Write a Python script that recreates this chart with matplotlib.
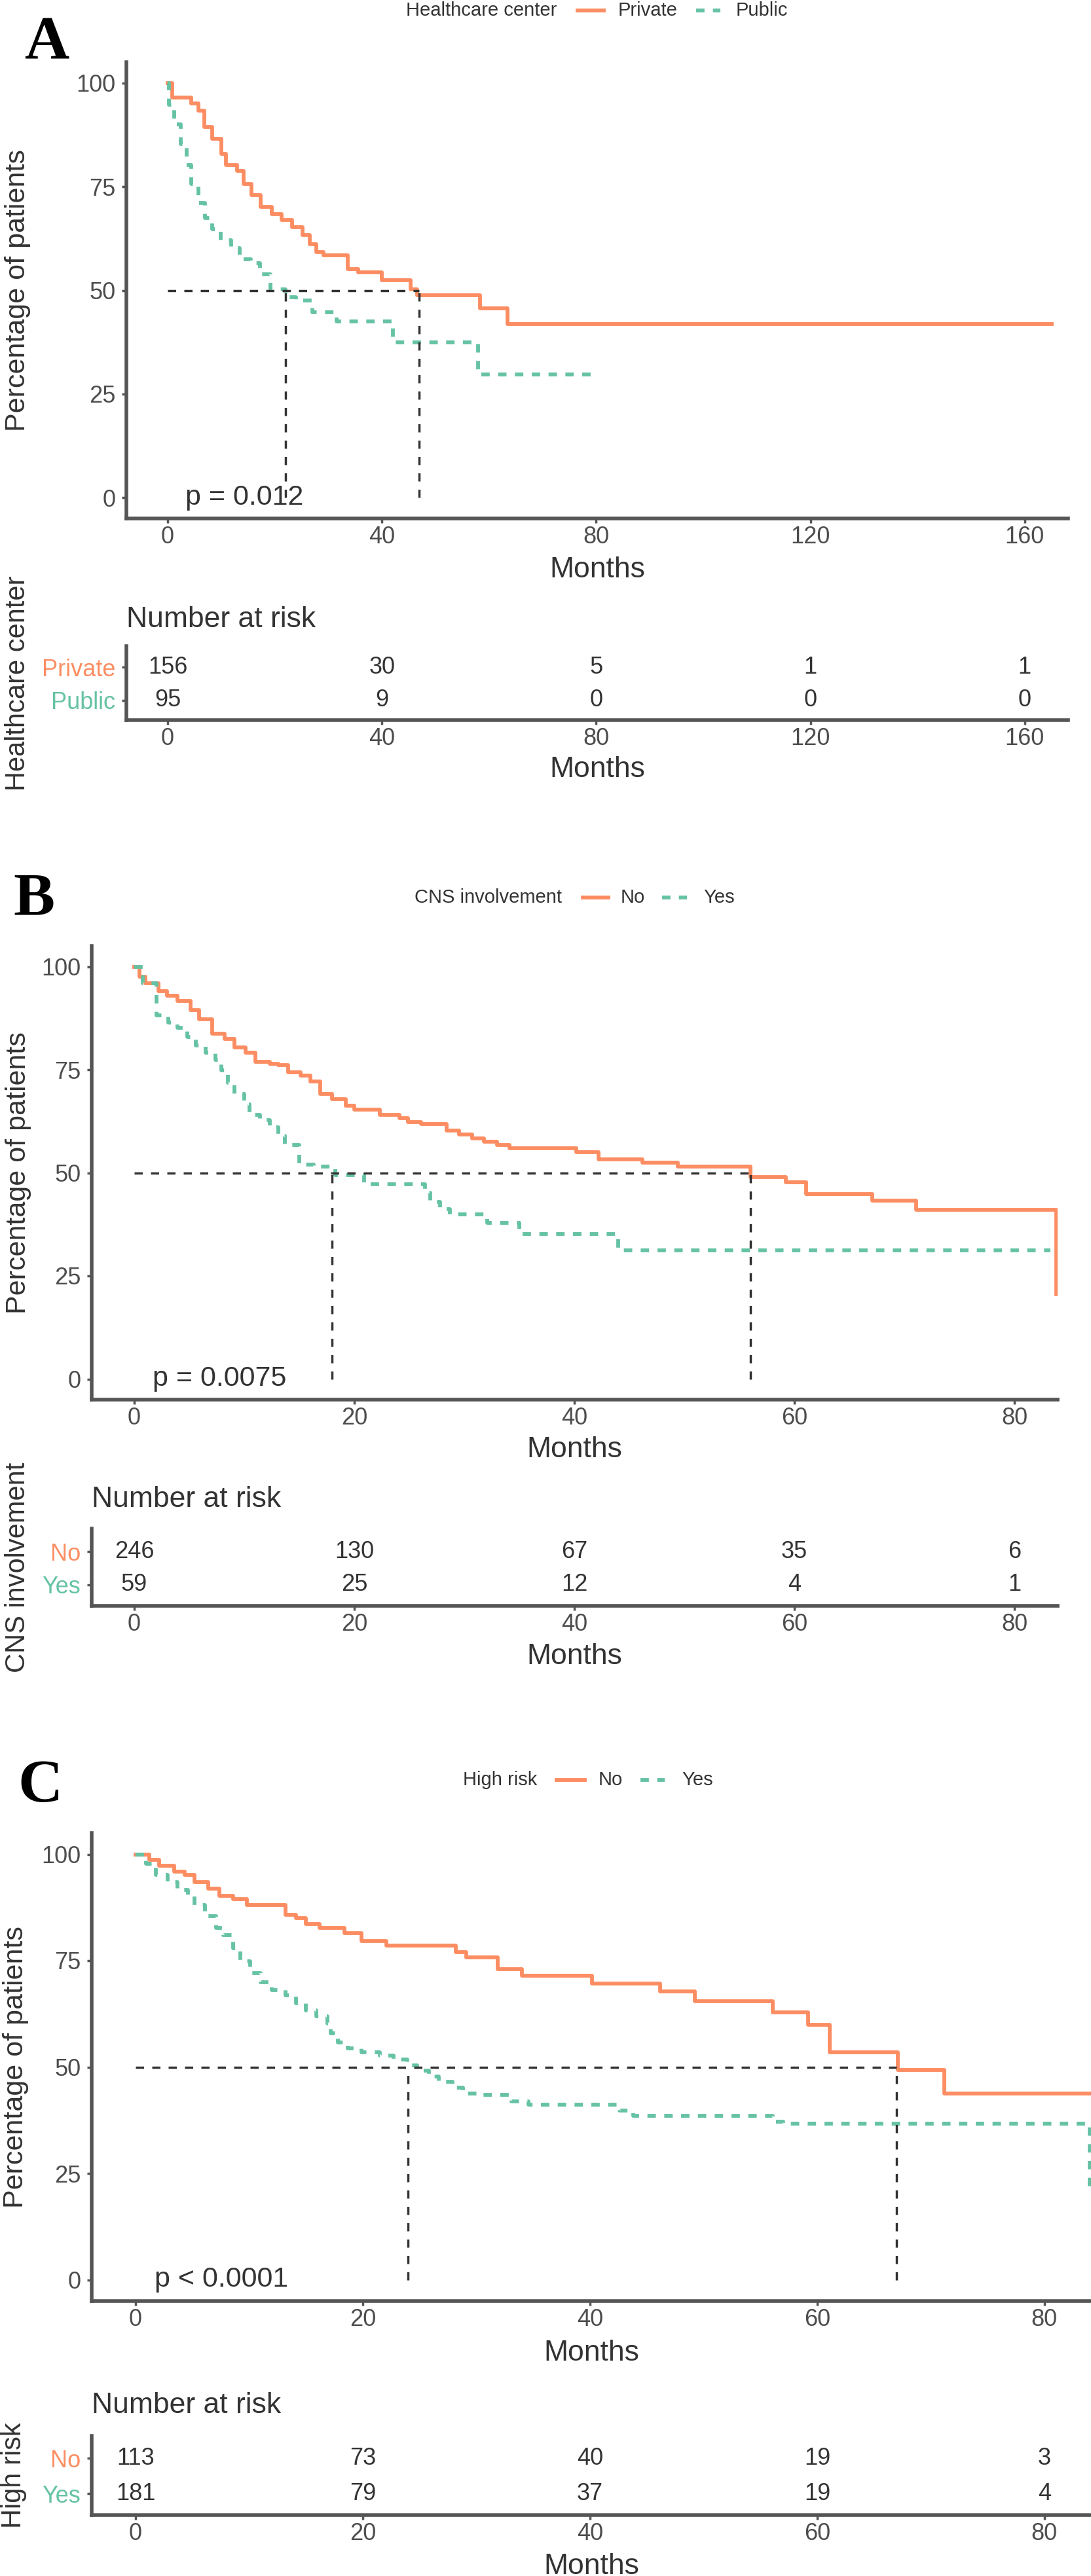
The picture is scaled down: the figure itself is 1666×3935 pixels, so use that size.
import matplotlib
matplotlib.use('Agg')
import matplotlib.pyplot as plt
from matplotlib.lines import Line2D

plt.rcParams['font.family'] = ['Liberation Sans', 'DejaVu Sans']

# ---------------- data ----------------
# Panel A: Healthcare center
a_private_t = [0, 0.9, 4.4, 5.7, 6.8, 8.3, 10, 10.9, 12.9, 14.2, 15.7, 17.4, 19.4, 21.3,
               23.2, 25.2, 26.5, 27.8, 29.1, 33.6, 35.6, 40, 45.3, 46.6, 58.3, 63.5, 165]
a_private_s = [100, 96.4, 95.0, 93.4, 89.3, 86.5, 82.9, 80.2, 78.8, 75.6, 72.9, 70.2, 68.4, 67.0,
               65.2, 63.4, 61.1, 59.3, 58.4, 55.2, 54.3, 52.5, 50.2, 48.8, 45.6, 41.8, 41.8]
a_public_t = [0, 0.3, 1.2, 2.5, 3.5, 4.4, 5.7, 7.0, 8.3, 9.9, 11.8, 13.4, 15.5, 17.3, 19.2,
              22.0, 24.0, 27.0, 31.5, 42.0, 58.0, 79.0]
a_public_s = [100, 94.7, 90.0, 85.2, 80.2, 75.6, 71.1, 67.5, 64.7, 62.0, 60.2, 57.5, 56.6, 53.8, 50.2,
              48.4, 47.5, 44.7, 42.5, 37.5, 29.7, 29.7]
a_medians = [22, 47]
a_pval = "p = 0.012"
a_risk_times = [0, 40, 80, 120, 160]
a_risk_private = [156, 30, 5, 1, 1]
a_risk_public = [95, 9, 0, 0, 0]
a_groups = ["Private", "Public"]
a_title = "Healthcare center"

# Panel B: CNS involvement
b_no_t = [0, 0.5, 1.0, 2.2, 3.0, 3.9, 5.1, 5.9, 7.1, 8.2, 9.1, 10.1, 11.0, 12.3, 13.1, 14.0,
          15.1, 16.0, 16.9, 18.0, 19.2, 20.0, 22.3, 24.1, 24.9, 26.1, 28.4, 29.5, 30.7, 31.8,
          33.0, 34.1, 40.2, 42.2, 46.2, 49.4, 56.0, 59.2, 61.1, 67.1, 71.1, 83.8]
b_no_s = [100, 97.6, 96.0, 94.1, 92.9, 91.6, 89.4, 87.3, 83.8, 82.5, 80.4, 79.1, 76.9, 76.5, 76.1, 74.4,
          73.5, 72.2, 69.2, 67.9, 66.2, 65.3, 64.0, 63.2, 62.3, 61.9, 60.2, 59.3, 58.4, 57.6,
          56.7, 55.9, 55.0, 53.3, 52.4, 51.5, 49.0, 47.7, 44.9, 43.2, 41.0, 20.6]
b_yes_t = [0, 0.8, 2.0, 3.1, 3.9, 4.8, 5.6, 6.5, 7.4, 7.9, 8.5, 9.1, 10.0, 10.5, 11.4, 12.3,
           13.1, 13.7, 15.0, 16.3, 18.3, 20.9, 26.4, 26.9, 27.8, 28.7, 32.1, 35.0, 44.0, 83.3]
b_yes_s = [100, 95.9, 88.1, 86.4, 85.1, 83.0, 80.8, 79.1, 77.4, 74.8, 71.8, 69.2, 66.6, 64.0, 62.7, 61.0,
           58.9, 56.7, 52.0, 51.5, 49.4, 47.2, 45.1, 42.9, 41.2, 39.9, 37.8, 35.2, 31.2, 31.2]
b_medians = [18, 56]
b_pval = "p = 0.0075"
b_risk_times = [0, 20, 40, 60, 80]
b_risk_no = [246, 130, 67, 35, 6]
b_risk_yes = [59, 25, 12, 4, 1]
b_groups = ["No", "Yes"]
b_title = "CNS involvement"

# Panel C: High risk
c_no_t = [0, 1.2, 2.1, 3.4, 4.3, 5.2, 6.4, 7.4, 8.6, 9.8, 13.2, 14.1, 15.0, 16.2, 18.4, 19.9,
          22.1, 28.2, 29.1, 31.9, 34.0, 40.2, 46.2, 49.2, 56.1, 59.2, 61.1, 67.1, 71.2, 85]
c_no_s = [100, 98.7, 97.3, 96.0, 95.1, 93.4, 92.0, 90.3, 89.4, 88.1, 85.8, 85.0, 83.6, 82.7, 81.4, 79.6,
          78.6, 77.0, 75.7, 73.0, 71.4, 69.6, 67.7, 65.5, 62.8, 59.9, 53.5, 49.3, 43.8, 43.8]
c_yes_t = [0, 0.9, 1.8, 2.8, 3.7, 4.6, 5.2, 6.1, 7.1, 7.7, 8.6, 9.2, 10.1, 11.0, 12.0, 13.2,
           14.1, 15.0, 15.9, 16.9, 17.2, 17.8, 18.7, 19.9, 21.5, 22.7, 23.9, 24.8, 25.8, 26.7,
           27.9, 28.8, 30.3, 33.1, 34.6, 42.6, 43.8, 56.1, 57.0, 84.0]
c_yes_s = [100, 97.8, 95.1, 93.4, 91.6, 90.3, 88.1, 85.4, 82.7, 81.0, 77.9, 74.8, 72.1, 69.9, 68.1, 66.8,
           65.0, 63.3, 61.9, 60.2, 58.0, 55.8, 54.4, 53.5, 52.7, 51.8, 50.4, 49.1, 47.8, 46.5,
           45.1, 43.8, 43.4, 42.0, 41.2, 39.8, 38.5, 37.2, 36.7, 20.8]
c_medians = [24, 67]
c_pval = "p < 0.0001"
c_risk_times = [0, 20, 40, 60, 80]
c_risk_no = [113, 73, 40, 19, 3]
c_risk_yes = [181, 79, 37, 19, 4]
c_groups = ["No", "Yes"]
c_title = "High risk"

y_ticks = [0, 25, 50, 75, 100]

# ---------------- style / layout ----------------
W, H = 1666, 3935
fig = plt.figure(figsize=(W / 100, H / 100), dpi=100)

ORANGE = '#FC8D62'
GREEN = '#66C2A5'
AXC = '#555555'
TXT = '#333333'
TICKTXT = '#4d4d4d'
LW = 4.2


def fx(px):
    return px / W


def fy(py):
    return 1 - py / H


def add_ax(l, r, t, b):
    return fig.add_axes([l / W, 1 - b / H, (r - l) / W, (b - t) / H])


def style_axes(ax, l, r, t, b, xlab_y, ylab_x, ylab):
    for s in ['top', 'right']:
        ax.spines[s].set_visible(False)
    for s in ['left', 'bottom']:
        ax.spines[s].set_color(AXC)
        ax.spines[s].set_linewidth(4)
    ax.tick_params(axis='both', direction='out', length=5, width=2.5, color=AXC,
                   labelsize=26, labelcolor=TICKTXT)
    ax.tick_params(axis='x', pad=3)
    ax.tick_params(axis='y', pad=7)
    ax.set_xlabel('Months', fontsize=32, color=TXT)
    ax.xaxis.label.set_va('center')
    ax.xaxis.set_label_coords(0.5, -(xlab_y - b) / (b - t))
    ax.set_ylabel(ylab, fontsize=31, color=TXT)
    ax.yaxis.label.set_va('center')
    ax.yaxis.set_label_coords(-(l - ylab_x) / (r - l), 0.5)


def panel(cfg, t1, s1, t2, s2, medians, pval, rtimes, r1, r2, groups, title):
    l, r, t, b = cfg['main']
    ax = add_ax(l, r, t, b)
    ax.step(t1, s1, where='post', color=ORANGE, lw=LW, zorder=3)
    ax.step(t2, s2, where='post', color=GREEN, lw=LW, ls=(0, (2.2, 2.2)), zorder=3)
    med_style = dict(color='#333333', lw=2.5, ls=(0, (3.6, 3.6)), zorder=4)
    ax.plot([0, max(medians)], [50, 50], **med_style)
    for m in medians:
        ax.plot([m, m], [0, 50], **med_style)
    ax.set_xlim(*cfg['xlim'])
    ax.set_ylim(-5, 105)
    ax.set_xticks(rtimes)
    ax.set_yticks(y_ticks)
    ax.text(cfg['xmax'] / 50, 0, pval, fontsize=31, color=TXT, ha='left', va='center', zorder=5)
    style_axes(ax, l, r, t, b, cfg['months'], cfg['ylab_x'], 'Percentage of patients')

    # risk table
    l2, r2_, t2_, b2 = cfg['risk']
    rax = add_ax(l2, r2_, t2_, b2)
    for tt, n1, n2 in zip(rtimes, r1, r2):
        rax.text(tt, 2, str(n1), ha='center', va='center', fontsize=26, color=TXT)
        rax.text(tt, 1, str(n2), ha='center', va='center', fontsize=26, color=TXT)
    rax.set_xlim(*cfg['xlim'])
    rax.set_ylim(*cfg['rylim'])
    rax.set_xticks(rtimes)
    rax.set_yticks([2, 1])
    style_axes(rax, l2, r2_, t2_, b2, cfg['rmonths'], cfg['rylab_x'], title)
    rax.set_yticklabels(groups)
    rax.yaxis.label.set_fontsize(30)
    for lab, c in zip(rax.get_yticklabels(), [ORANGE, GREEN]):
        lab.set_color(c)
    fig.text(fx(l2), fy(cfg['rtitle']), 'Number at risk', fontsize=32, color=TXT,
             ha='left', va='center')

    # panel letter
    lx, ly = cfg['letter_pos']
    fig.text(fx(lx), fy(ly), cfg['letter'], fontsize=68, fontweight='bold',
             family=['Liberation Serif', 'DejaVu Serif'], ha='left', va='baseline', color='black')

    # legend
    lg = cfg['legend']
    yl = lg['y']
    fig.text(fx(lg['title']), fy(yl), title, fontsize=21, color=TXT, ha='left', va='center')
    fig.add_artist(Line2D([fx(lg['l1'][0]), fx(lg['l1'][1])], [fy(yl), fy(yl)],
                          color=ORANGE, lw=LW, transform=fig.transFigure))
    fig.text(fx(lg['t1']), fy(yl), groups[0], fontsize=21, color=TXT, ha='left', va='center')
    fig.add_artist(Line2D([fx(lg['l2'][0]), fx(lg['l2'][1])], [fy(yl), fy(yl)],
                          color=GREEN, lw=LW, ls=(0, (2.2, 2.2)), transform=fig.transFigure))
    fig.text(fx(lg['t2']), fy(yl), groups[1], fontsize=21, color=TXT, ha='left', va='center')


cfgA = dict(main=(193, 1631, 95, 792), xlim=(-7.7, 168.1), xmax=165, months=870, ylab_x=27,
            risk=(193, 1631, 987, 1100), rylim=(0.41, 2.63), rmonths=1175, rylab_x=27, rtitle=946,
            letter='A', letter_pos=(37, 89),
            legend=dict(y=16, title=620, l1=(882, 922), t1=944, l2=(1063, 1100), t2=1124))
cfgB = dict(main=(140, 1615, 1445, 2138), xlim=(-3.87, 83.93), xmax=84, months=2215, ylab_x=28,
            risk=(140, 1615, 2335, 2453), rylim=(0.37, 2.69), rmonths=2531, rylab_x=27, rtitle=2291,
            letter='B', letter_pos=(20, 1397),
            legend=dict(y=1371, title=633, l1=(890, 929), t1=948, l2=(1011, 1049), t2=1074))
cfgC = dict(main=(140, 1666, 2800, 3515), xlim=(-3.86, 84.1), xmax=84, months=3594, ylab_x=24,
            risk=(140, 1666, 3721, 3842), rylim=(0.39, 2.63), rmonths=3921, rylab_x=21, rtitle=3675,
            letter='C', letter_pos=(27, 2752),
            legend=dict(y=2719, title=707, l1=(850, 893), t1=914, l2=(978, 1015), t2=1041))

panel(cfgA, a_private_t, a_private_s, a_public_t, a_public_s, a_medians, a_pval,
      a_risk_times, a_risk_private, a_risk_public, a_groups, a_title)
panel(cfgB, b_no_t, b_no_s, b_yes_t, b_yes_s, b_medians, b_pval,
      b_risk_times, b_risk_no, b_risk_yes, b_groups, b_title)
panel(cfgC, c_no_t, c_no_s, c_yes_t, c_yes_s, c_medians, c_pval,
      c_risk_times, c_risk_no, c_risk_yes, c_groups, c_title)

fig.savefig('out.png', dpi=100, facecolor='white')
